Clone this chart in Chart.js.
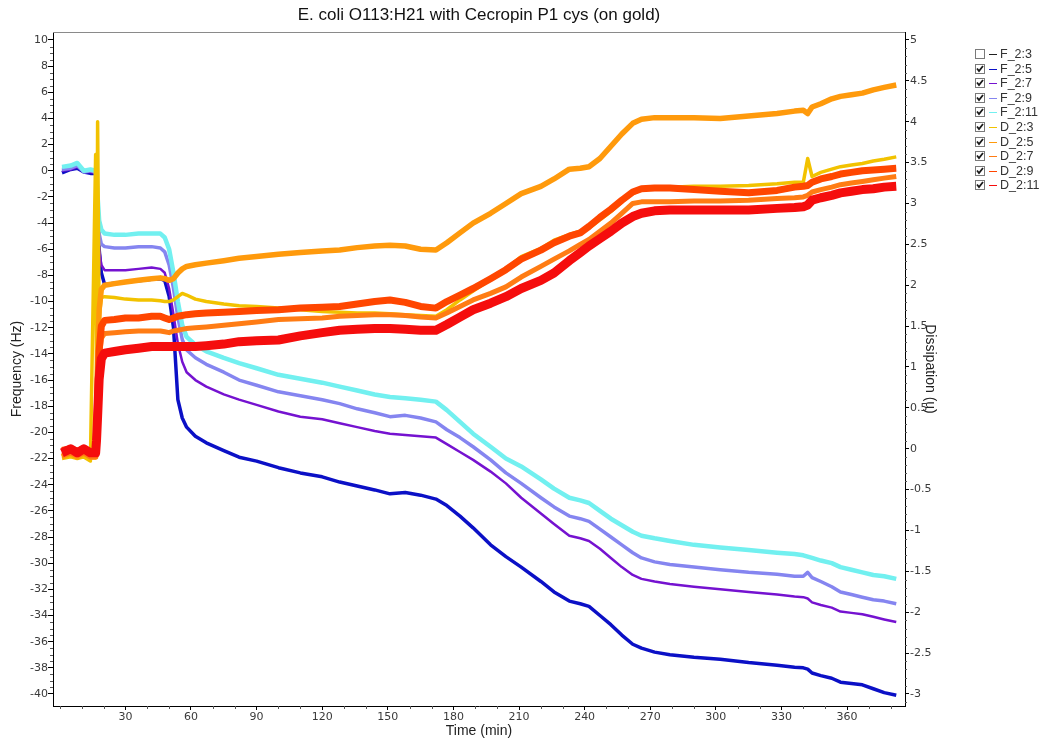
<!DOCTYPE html>
<html>
<head>
<meta charset="utf-8">
<script src="https://cdn.jsdelivr.net/npm/chart.js@4.4.1/dist/chart.umd.min.js"></script>
<style>
  html, body { margin: 0; padding: 0; background: #fff; }
  #wrap { position: relative; width: 1044px; height: 742px; }
</style>
</head>
<body>
<div id="wrap"><canvas id="qcm" width="1044" height="742"></canvas></div>
<script>
// Time base of the QCM-D run (minutes)
const timeMin = [1, 5, 8, 11, 14, 16.4, 16.8, 17.3, 18, 19,
  20.5, 25, 30, 36, 42, 46, 48, 50, 52, 54,
  56, 58, 62, 67, 75, 82, 90, 100, 110, 120,
  128, 136, 144, 151, 158, 165, 172, 177, 183, 189,
  197, 204, 211, 220, 226, 233, 238, 242, 247, 252,
  257, 262, 266, 272, 279, 290, 302, 315, 328, 336,
  340, 342, 344, 348, 353, 357, 362, 367, 372, 377,
  382.5];

// Normalised frequency shifts (Hz), overtones 5..11
const freq_2_5 = [-0.15, 0.1, 0.2, -0.1, -0.2, -0.2, -1.0, -3.0, -6.0, -7.8,
  -8.7, -8.6, -8.5, -8.4, -8.3, -8.25, -8.4, -9.6, -12.0, -17.5,
  -18.9, -19.6, -20.3, -20.8, -21.4, -21.9, -22.2, -22.7, -23.1, -23.4,
  -23.8, -24.1, -24.4, -24.7, -24.6, -24.8, -25.1, -25.6, -26.4, -27.3,
  -28.6, -29.5, -30.3, -31.4, -32.2, -32.9, -33.1, -33.3, -34.0, -34.7,
  -35.5, -36.2, -36.5, -36.8, -37.0, -37.2, -37.35, -37.6, -37.8, -37.95,
  -38.0, -38.1, -38.4, -38.6, -38.8, -39.1, -39.2, -39.3, -39.6, -39.9,
  -40.1];
const freq_2_7 = [0.0, 0.1, 0.3, -0.1, -0.1, -0.2, -1.0, -3.5, -6.0, -7.2,
  -7.6, -7.6, -7.6, -7.5, -7.4, -7.5, -7.8, -9.0, -11.0, -13.2,
  -14.6, -15.4, -16.0, -16.5, -17.1, -17.5, -17.9, -18.4, -18.8, -19.0,
  -19.3, -19.6, -19.9, -20.1, -20.2, -20.3, -20.4, -20.9, -21.5, -22.1,
  -23.0, -23.9, -25.0, -26.2, -27.0, -27.9, -28.1, -28.3, -28.9, -29.6,
  -30.3, -30.9, -31.2, -31.4, -31.6, -31.8, -32.0, -32.2, -32.4, -32.55,
  -32.6, -32.7, -33.0, -33.2, -33.4, -33.7, -33.8, -33.9, -34.1, -34.3,
  -34.5];
const freq_2_9 = [0.1, 0.2, 0.4, -0.1, 0.0, -0.1, -0.8, -2.8, -4.8, -5.6,
  -5.8, -5.9, -5.9, -5.8, -5.8, -5.9, -6.2, -7.2, -9.0, -11.2,
  -12.9, -13.7, -14.3, -14.8, -15.4, -16.0, -16.4, -16.9, -17.2, -17.5,
  -17.8, -18.2, -18.5, -18.8, -18.7, -18.9, -19.2, -19.8, -20.4, -21.1,
  -22.1, -23.1, -23.9, -25.0, -25.7, -26.4, -26.6, -26.8, -27.4, -28.0,
  -28.6, -29.2, -29.6, -29.9, -30.1, -30.3, -30.5, -30.7, -30.85, -31.0,
  -31.0, -30.7, -31.1, -31.4, -31.8, -32.2, -32.4, -32.6, -32.8, -32.9,
  -33.1];
const freq_2_11 = [0.3, 0.4, 0.6, 0.0, 0.1, 0.0, -0.5, -2.0, -3.8, -4.5,
  -4.8, -4.9, -4.9, -4.8, -4.8, -4.8, -5.1, -6.0, -7.8, -10.0,
  -11.8, -12.7, -13.3, -13.8, -14.3, -14.7, -15.1, -15.6, -15.9, -16.2,
  -16.5, -16.8, -17.1, -17.3, -17.4, -17.5, -17.65, -18.3, -19.2, -20.1,
  -21.1, -22.0, -22.6, -23.6, -24.3, -25.0, -25.2, -25.4, -26.0, -26.6,
  -27.1, -27.6, -27.9, -28.1, -28.3, -28.6, -28.8, -29.0, -29.2, -29.3,
  -29.4, -29.5, -29.6, -29.8, -30.0, -30.3, -30.5, -30.7, -30.9, -31.0,
  -31.2];

// Dissipation shifts (1e-6), overtones 3..11
const diss_2_3 = [-0.12, -0.1, -0.12, -0.1, -0.15, 3.6, 0.6, 4.0, 1.6, 1.85,
  1.86, 1.85, 1.83, 1.82, 1.82, 1.81, 1.80, 1.80, 1.82, 1.86,
  1.9, 1.88, 1.83, 1.80, 1.77, 1.75, 1.74, 1.72, 1.70, 1.68,
  1.67, 1.66, 1.66, 1.65, 1.64, 1.63, 1.62, 1.7, 1.82, 1.93,
  2.07, 2.2, 2.35, 2.45, 2.55, 2.62, 2.66, 2.7, 2.8, 2.9,
  3.02, 3.12, 3.17, 3.19, 3.2, 3.21, 3.21, 3.22, 3.24, 3.26,
  3.26, 3.55, 3.33, 3.38, 3.42, 3.45, 3.47, 3.49, 3.52, 3.54,
  3.57];
const diss_2_5 = [-0.1, -0.05, -0.1, -0.05, -0.1, -0.1, 0.3, 1.0, 1.7, 1.95,
  2.0, 2.02, 2.04, 2.06, 2.08, 2.09, 2.08, 2.06, 2.08, 2.15,
  2.2, 2.23, 2.25, 2.27, 2.3, 2.33, 2.35, 2.38, 2.40, 2.42,
  2.43, 2.46, 2.48, 2.49, 2.48, 2.44, 2.43, 2.52, 2.64, 2.76,
  2.88, 3.0, 3.12, 3.21, 3.3, 3.42, 3.43, 3.45, 3.55, 3.7,
  3.85, 3.98, 4.03, 4.05, 4.05, 4.05, 4.04, 4.07, 4.1, 4.13,
  4.14, 4.1, 4.18, 4.22, 4.28, 4.31, 4.33, 4.35, 4.39, 4.42,
  4.45];
const diss_2_7 = [-0.08, -0.05, -0.08, -0.05, -0.1, -0.1, 0.2, 0.6, 1.1, 1.35,
  1.41, 1.42, 1.43, 1.44, 1.44, 1.44, 1.43, 1.42, 1.44, 1.45,
  1.46, 1.47, 1.48, 1.49, 1.51, 1.53, 1.55, 1.58, 1.59, 1.60,
  1.62, 1.63, 1.64, 1.64, 1.63, 1.61, 1.60, 1.66, 1.74, 1.82,
  1.9, 1.98, 2.1, 2.23, 2.32, 2.42, 2.5, 2.56, 2.66, 2.76,
  2.88, 3.0, 3.02, 3.02, 3.02, 3.03, 3.03, 3.04, 3.06, 3.07,
  3.08, 3.1, 3.14, 3.17, 3.2, 3.23, 3.25, 3.27, 3.29, 3.31,
  3.33];
const diss_2_9 = [-0.02, 0.0, -0.03, 0.0, -0.05, -0.05, 0.2, 0.6, 1.2, 1.5,
  1.57, 1.58, 1.6, 1.6, 1.62, 1.62, 1.6, 1.58, 1.6, 1.62,
  1.63, 1.64, 1.65, 1.66, 1.67, 1.68, 1.69, 1.70, 1.72, 1.73,
  1.74, 1.77, 1.8, 1.82, 1.79, 1.74, 1.72, 1.8, 1.88, 1.96,
  2.08, 2.19, 2.32, 2.43, 2.52, 2.6, 2.64, 2.72, 2.83, 2.93,
  3.04, 3.14, 3.18, 3.19, 3.19, 3.17, 3.15, 3.13, 3.16, 3.2,
  3.21, 3.22, 3.26, 3.3, 3.33, 3.36, 3.38, 3.4, 3.41, 3.42,
  3.43];
const diss_2_11 = [-0.05, 0.0, -0.05, 0.0, -0.05, -0.05, 0.1, 0.4, 0.85, 1.1,
  1.17, 1.19, 1.21, 1.23, 1.25, 1.25, 1.25, 1.25, 1.25, 1.25,
  1.25, 1.25, 1.25, 1.26, 1.28, 1.31, 1.32, 1.33, 1.38, 1.42,
  1.45, 1.46, 1.47, 1.47, 1.46, 1.45, 1.45, 1.52, 1.61, 1.7,
  1.78, 1.86, 1.96, 2.06, 2.15, 2.3, 2.4, 2.48, 2.57, 2.66,
  2.76, 2.84, 2.88, 2.91, 2.92, 2.92, 2.92, 2.92, 2.94, 2.95,
  2.96, 2.98, 3.04, 3.07, 3.1, 3.13, 3.15, 3.17, 3.18, 3.2,
  3.21];

// Axis tick values
const timeTicks = [30, 60, 90, 120, 150, 180, 210, 240, 270, 300, 330, 360];
const freqTicks = [-40, -38, -36, -34, -32, -30, -28, -26, -24, -22, -20, -18, -16, -14, -12,
  -10, -8, -6, -4, -2, 0, 2, 4, 6, 8, 10];
const dissTicks = [-3, -2.5, -2, -1.5, -1, -0.5, 0, 0.5, 1, 1.5, 2, 2.5, 3, 3.5, 4, 4.5, 5];

// Series appearance (drawing order follows this list: later entries on top)
const series = [
  { label: 'F_2:3',  values: null,      axis: 'y',  color: '#202020', width: 1,   checked: false },
  { label: 'F_2:5',  values: freq_2_5,  axis: 'y',  color: '#0b10c6', width: 3.5, checked: true },
  { label: 'F_2:7',  values: freq_2_7,  axis: 'y',  color: '#7512d0', width: 2.5, checked: true },
  { label: 'F_2:9',  values: freq_2_9,  axis: 'y',  color: '#8585f0', width: 3.5, checked: true },
  { label: 'F_2:11', values: freq_2_11, axis: 'y',  color: '#72f0f0', width: 4.5, checked: true },
  { label: 'D_2:3',  values: diss_2_3,  axis: 'y1', color: '#f2c200', width: 3.5, checked: true },
  { label: 'D_2:5',  values: diss_2_5,  axis: 'y1', color: '#ff9a0c', width: 5.5, checked: true },
  { label: 'D_2:7',  values: diss_2_7,  axis: 'y1', color: '#ff7c14', width: 5,   checked: true },
  { label: 'D_2:9',  values: diss_2_9,  axis: 'y1', color: '#ff4600', width: 7,   checked: true },
  { label: 'D_2:11', values: diss_2_11, axis: 'y1', color: '#f50d0d', width: 9,   checked: true }
];

// Both vertical axes share the same pixel span: D = 0.16 * F + 3.4
const freqMin = -40.92, freqMax = 10.61;
const dissMin = freqMin * 0.16 + 3.4, dissMax = freqMax * 0.16 + 3.4;

const tickFont = { family: 'DejaVu Sans', size: 11 };
const tickColor = '#3a3a3a';
const titleFamily = '"Liberation Sans", Arial, sans-serif';

const datasets = series
  .map((s, i) => ({ s, i }))
  .filter(o => o.s.values)
  .map(({ s, i }) => ({
    label: s.label,
    data: timeMin.map((t, k) => ({ x: t, y: s.values[k] })),
    yAxisID: s.axis,
    borderColor: s.color,
    backgroundColor: s.color,
    borderWidth: s.width,
    pointRadius: 0,
    tension: 0,
    borderJoinStyle: 'round',
    order: 100 - i
  }));

function fixTicks(values) {
  return scale => { scale.ticks = values.map(v => ({ value: v })); };
}

// Title, top frame line, minor tick marks and the check-box legend
const decor = {
  id: 'decor',
  beforeDraw(chart) {
    const ctx = chart.ctx;
    ctx.save();
    ctx.fillStyle = '#fff';
    ctx.fillRect(0, 0, chart.width, chart.height);
    ctx.restore();
  },
  afterDraw(chart) {
    const { ctx, chartArea: a, scales } = chart;
    ctx.save();
    // top edge of the plot frame
    ctx.strokeStyle = '#8a8a8a';
    ctx.lineWidth = 1;
    ctx.beginPath();
    ctx.moveTo(a.left, a.top + 0.5);
    ctx.lineTo(a.right, a.top + 0.5);
    ctx.stroke();

    // minor ticks
    ctx.strokeStyle = '#555';
    ctx.beginPath();
    for (let t = 0; t <= 380; t += 10) {
      if (t % 30 === 0 && t > 0) continue;
      const px = Math.round(scales.x.getPixelForValue(t)) + 0.5;
      ctx.moveTo(px, a.bottom);
      ctx.lineTo(px, a.bottom + 3);
    }
    for (let v = -40; v <= 10; v += 0.5) {
      if (Math.abs(v % 2) < 1e-9) continue;
      const py = Math.round(scales.y.getPixelForValue(v)) + 0.5;
      ctx.moveTo(a.left - 3, py);
      ctx.lineTo(a.left, py);
    }
    for (let k = -31; k <= 50; k++) {
      if (k % 5 === 0) continue;
      const py = Math.round(scales.y1.getPixelForValue(k / 10)) + 0.5;
      ctx.moveTo(a.right, py);
      ctx.lineTo(a.right + 2, py);
    }
    ctx.stroke();

    // chart title
    ctx.fillStyle = '#111';
    ctx.font = '17px ' + titleFamily;
    ctx.textAlign = 'center';
    ctx.textBaseline = 'middle';
    ctx.fillText('E. coli O113:H21 with Cecropin P1 cys (on gold)', (a.left + a.right) / 2, 15);

    // legend with check boxes
    const x0 = 975, y0 = 54, step = 14.6;
    ctx.font = '12.5px ' + titleFamily;
    ctx.textAlign = 'left';
    series.forEach((s, i) => {
      const cy = Math.round(y0 + i * step);
      ctx.fillStyle = '#fff';
      ctx.fillRect(x0, cy - 5, 10, 10);
      ctx.strokeStyle = '#7a7a7a';
      ctx.lineWidth = 1;
      ctx.strokeRect(x0 + 0.5, cy - 5 + 0.5, 9, 9);
      if (s.checked) {
        ctx.strokeStyle = '#1a1a1a';
        ctx.lineWidth = 1.8;
        ctx.beginPath();
        ctx.moveTo(x0 + 2, cy - 0.5);
        ctx.lineTo(x0 + 4, cy + 2);
        ctx.lineTo(x0 + 8, cy - 3);
        ctx.stroke();
      }
      ctx.strokeStyle = s.color;
      ctx.lineWidth = 1;
      ctx.beginPath();
      ctx.moveTo(x0 + 14, cy + 0.5);
      ctx.lineTo(x0 + 22, cy + 0.5);
      ctx.stroke();
      ctx.fillStyle = '#333';
      ctx.fillText(s.label, x0 + 25, cy + 1);
    });
    ctx.restore();
  }
};

new Chart(document.getElementById('qcm'), {
  type: 'line',
  data: { datasets },
  options: {
    responsive: false,
    animation: false,
    devicePixelRatio: 1,
    parsing: false,
    normalized: true,
    layout: { padding: { top: 32, right: 94, left: 0, bottom: 0 } },
    plugins: {
      legend: { display: false },
      tooltip: { enabled: false },
      title: { display: false }
    },
    scales: {
      x: {
        type: 'linear',
        min: -3.1,
        max: 386.5,
        afterBuildTicks: fixTicks(timeTicks),
        afterFit: s => { s.height = 36; },
        ticks: { font: tickFont, color: tickColor, padding: 1, maxRotation: 0, autoSkip: false,
          callback: v => String(v) },
        grid: { display: true, drawOnChartArea: false, drawTicks: true, tickLength: 4, tickColor: '#000' },
        border: { display: true, color: '#000', width: 1 },
        title: { display: true, text: 'Time (min)', color: '#222',
          font: { family: titleFamily, size: 14 }, padding: { top: 0, bottom: 2 } }
      },
      y: {
        type: 'linear',
        position: 'left',
        min: freqMin,
        max: freqMax,
        afterBuildTicks: fixTicks(freqTicks),
        afterFit: s => { s.width = 53; },
        ticks: { font: tickFont, color: tickColor, padding: 0, autoSkip: false,
          callback: v => String(v) },
        grid: { display: true, drawOnChartArea: false, drawTicks: true, tickLength: 5, tickColor: '#000' },
        border: { display: true, color: '#000', width: 1 },
        title: { display: true, text: 'Frequency (Hz)', color: '#222',
          font: { family: titleFamily, size: 14 }, padding: { top: 9, bottom: 0 } }
      },
      y1: {
        type: 'linear',
        position: 'right',
        min: dissMin,
        max: dissMax,
        afterBuildTicks: fixTicks(dissTicks),
        afterFit: s => { s.width = 45; },
        ticks: { font: tickFont, color: tickColor, padding: 1, autoSkip: false,
          callback: v => String(Math.round(v * 10) / 10) },
        grid: { display: true, drawOnChartArea: false, drawTicks: true, tickLength: 4, tickColor: '#000' },
        border: { display: true, color: '#000', width: 1 },
        title: { display: true, text: 'Dissipation (u)', color: '#222',
          font: { family: titleFamily, size: 14 }, padding: { top: 12, bottom: 0 } }
      }
    }
  },
  plugins: [decor]
});
</script>
</body>
</html>
